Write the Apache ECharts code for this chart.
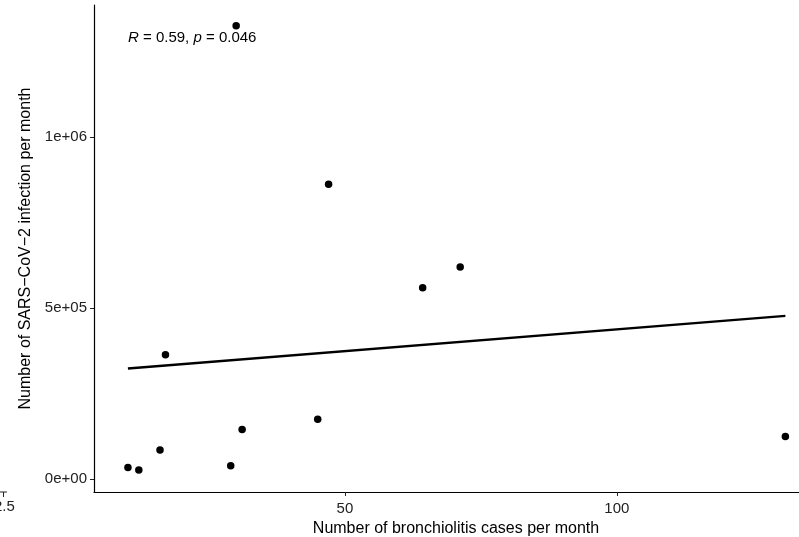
<!DOCTYPE html>
<html>
<head>
<meta charset="utf-8">
<script src="https://cdn.jsdelivr.net/npm/echarts@6/dist/echarts.min.js"></script>
<style>
  html, body { margin: 0; padding: 0; background: #fff; }
  #main { width: 799px; height: 537px; }
</style>
</head>
<body>
<div id="main"></div>
<script>
// bronchiolitis cases vs SARS-CoV-2 infections, one point per month
var casesX = [10.1, 12.1, 16.0, 17.0, 29.0, 30.0, 31.1, 45.0, 47.0, 64.3, 71.2, 131.0];
var infectionsY = [34000, 26000, 85000, 363000, 39000, 1325000, 145000, 175000, 862000, 559000, 620000, 124000];

// fitted line end points
var fitX = [10.1, 131.0];
var fitY = [323000, 477000];

var xTicks = [50, 100];
var yTicks = [0, 500000, 1000000];
var yTickLabels = ['0e+00', '5e+05', '1e+06'];

var points = casesX.map(function (x, i) { return [x, infectionsY[i]]; });
var fitLine = fitX.map(function (x, i) { return [x, fitY[i]]; });

var myChart = echarts.init(document.getElementById('main'));
var option = {
    animation: false,
    textStyle: { fontFamily: 'Liberation Sans' },
    grid: {
        left: 94,
        right: -19,
        top: 5,
        bottom: 45,
        outerBoundsMode: 'none'
    },
    xAxis: {
        type: 'value',
        min: 3.86,
        max: 137,
        name: 'Number of bronchiolitis cases per month',
        nameLocation: 'middle',
        nameGap: 22,
        nameTextStyle: { color: '#000', fontSize: 16 },
        splitLine: { show: false },
        axisLine: { onZero: false, lineStyle: { color: '#000', width: 1.2 } },
        axisTick: { customValues: xTicks, length: 4, lineStyle: { color: '#222' } },
        axisLabel: { customValues: xTicks, color: '#222', fontSize: 15, margin: 9 }
    },
    yAxis: {
        type: 'value',
        min: -38000,
        max: 1386000,
        name: 'Number of SARS\u2212CoV\u22122 infection per month',
        nameLocation: 'middle',
        nameGap: 59,
        nameTextStyle: { color: '#000', fontSize: 16 },
        splitLine: { show: false },
        axisLine: { show: true, onZero: false, lineStyle: { color: '#000', width: 1.2 } },
        axisTick: { show: true, customValues: yTicks, length: 4, lineStyle: { color: '#222' } },
        axisLabel: {
            customValues: yTicks,
            color: '#222',
            fontSize: 15,
            margin: 7,
            formatter: function (v) { return yTickLabels[yTicks.indexOf(v)]; }
        }
    },
    graphic: [
        {
            type: 'text',
            left: 128,
            top: 30,
            style: {
                text: '{i|R} = 0.59, {i|p} = 0.046',
                rich: { i: { fontStyle: 'italic', fontSize: 15, fontFamily: 'Liberation Sans', fill: '#000' } },
                fontSize: 15,
                fontFamily: 'Liberation Sans',
                fill: '#000'
            }
        },
        {
            type: 'text',
            x: -6,
            y: 499,
            style: { text: '2.5', fontSize: 15, fontFamily: 'Liberation Sans', fill: '#222' }
        },
        {
            type: 'line',
            shape: { x1: 0, y1: 492, x2: 7, y2: 492 },
            style: { stroke: '#222', lineWidth: 1 }
        },
        {
            type: 'line',
            shape: { x1: 3.5, y1: 492, x2: 3.5, y2: 497 },
            style: { stroke: '#222', lineWidth: 1 }
        }
    ],
    series: [
        {
            type: 'scatter',
            data: points,
            symbolSize: 7.5,
            itemStyle: { color: '#000', opacity: 1 }
        },
        {
            type: 'line',
            data: fitLine,
            showSymbol: false,
            lineStyle: { color: '#000', width: 2.5 }
        }
    ]
};
myChart.setOption(option);
</script>
</body>
</html>
